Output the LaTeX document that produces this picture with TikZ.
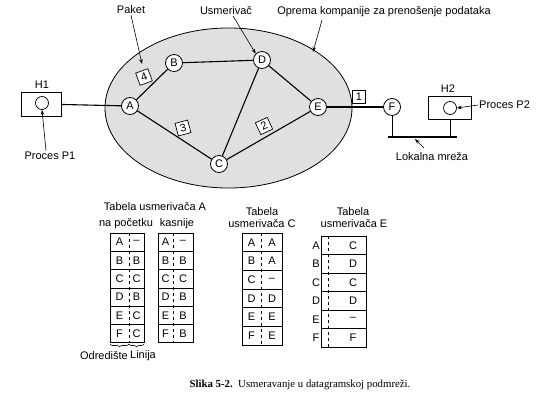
\documentclass[tikz,border=0pt]{standalone}
\usepackage{fontspec}
\setmainfont{Liberation Sans}
\newfontfamily\slikafont{Liberation Serif}
\usetikzlibrary{arrows.meta,decorations.pathreplacing}

\tikzset{
  ruter/.style={circle,draw,fill=white,line width=0.8pt,inner sep=0pt,minimum size=17pt},
  paket/.style={draw,fill=white,line width=0.7pt,inner sep=0pt,minimum size=13pt},
  veza/.style={line width=1.1pt},
  strelica/.style={line width=0.6pt,-{Stealth[length=5pt,width=3.5pt]}},
  oznaka/.style={inner sep=1pt},
}

\begin{document}
\begin{tikzpicture}[x=1pt,y=-1pt,font=\fontsize{11}{13}\selectfont]
    \useasboundingbox (0,0) rectangle (540,410);
    % Oblak mreze:
    % Elipsa sa sivom ispunom, cvorovi se crtaju preko nje
    \draw [line width=0.8pt,fill=black!12] (228.5,108) ellipse [x radius=123.5,y radius=80];

    % Usmerivaci:
    \node [ruter] (A) at (130,106) {A};
    \node [ruter] (B) at (174,63)  {B};
    \node [ruter] (D) at (262,60)  {D};
    \node [ruter] (C) at (219,164) {C};
    \node [ruter] (E) at (318,107) {E};
    \node [ruter] (F) at (392,107) {F};

    % Linije izmedju usmerivaca:
    \foreach \a/\b in {A/B,B/D,A/C,C/D,D/E,C/E,E/F}{%
        \draw [veza] (\a) -- (\b);
    }

    % Paketi:
    % Mali kvadrati sa brojevima, malo zarotirani
    \node [paket,rotate=20] (p4) at (144,77)  {4};
    \node [paket,rotate=15] (p3) at (183,128) {3};
    \node [paket,rotate=25] (p2) at (264,126) {2};
    \node [paket]           (p1) at (359,97)  {1};

    % Racunar H1:
    \node [draw,line width=0.7pt,minimum width=40pt,minimum height=24pt] (h1) at (41,104) {};
    \node [circle,draw,line width=0.7pt,minimum size=13pt,inner sep=0pt] (h1c) at (42,103) {};
    \node [oznaka] (h1l) at (42,85) {H1};
    \draw [veza] (h1) -- (A);

    % Racunar H2 i lokalna mreza:
    \node [draw,line width=0.7pt,minimum width=43pt,minimum height=23pt] (h2) at (450,108) {};
    \node [circle,draw,line width=0.7pt,minimum size=13pt,inner sep=0pt] (h2c) at (450,108) {};
    \node [oznaka] (h2l) at (448,89) {H2};
    \coordinate (lanL) at (388,137);
    \coordinate (lanR) at (457,137);
    \draw [veza] (lanL) -- (lanR);
    \draw [line width=0.8pt] (F) -- (F |- lanL);
    \draw [line width=0.8pt] (h2.south) -- (h2.south |- lanL);

    % Oznake sa strelicama:
    \node [oznaka] (paketl) at (131,10) {Paket};
    \draw [strelica] (paketl.south) -- (142,64);
    \node [oznaka] (usmerl) at (226,11) {Usmerivač};
    \draw [strelica] (usmerl.south east) ++(-20,0) -- (D.north west);
    \node [oznaka] (opremal) at (384,12) {Oprema kompanije za prenošenje podataka};
    \draw [strelica] (322,20) -- (313,52);
    \node [oznaka] (p1l) at (50,156) {Proces P1};
    \draw [strelica] (p1l.north) ++(-4,0) -- (h1c.south);
    \node [oznaka,anchor=west] (p2l) at (478,105) {Proces P2};
    \draw [strelica] (p2l.west) -- (h2c.east);
    \node [oznaka] (lanl) at (432,157) {Lokalna mreža};
    \draw [strelica] (424,148) -- (415,139);

    % Tabele:
    % Tabela usmerivaca A, na pocetku i kasnije
    \node [oznaka] (taHead) at (155,207) {Tabela usmerivača A};
    \node [oznaka] (taPoc)  at (126,224) {na početku};
    \node [oznaka] (taKas)  at (177,224) {kasnije};
    \foreach \d/\l [count=\i] in {A/\textendash,B/B,C/C,D/B,E/C,F/C}{%
        \draw [line width=0.7pt] (110,{233+(\i-1)*18.3}) rectangle (144,{233+\i*18.3});
        \node (ta\i d) at (119.5,{233+(\i-0.5)*18.3}) {\d};
        \node (ta\i l) at (136.5,{233+(\i-0.5)*18.3}) {\l};
    }
    \draw [dashed,line width=0.6pt] (129,233) -- (129,342.8);
    \foreach \d/\l [count=\i] in {A/\textendash,B/B,C/C,D/B,E/B,F/B}{%
        \draw [line width=0.7pt] (158,{233+(\i-1)*18.3}) rectangle (193,{233+\i*18.3});
        \node (tb\i d) at (165.5,{233+(\i-0.5)*18.3}) {\d};
        \node (tb\i l) at (183,{233+(\i-0.5)*18.3}) {\l};
    }
    \draw [dashed,line width=0.6pt] (173,233) -- (173,342.8);
    % Zagrade ispod prve tabele
    \draw [decorate,decoration={brace,mirror,amplitude=3pt},line width=0.6pt] (110,344) -- (129,344);
    \draw [decorate,decoration={brace,mirror,amplitude=3pt},line width=0.6pt] (129,344) -- (144,344);
    \node [oznaka] (odrl) at (104,356) {Odredište};
    \node [oznaka] (linl) at (143,356) {Linija};

    % Tabela usmerivaca C
    \node [oznaka] (tcHead1) at (262,212) {Tabela};
    \node [oznaka] (tcHead2) at (262,224) {usmerivača C};
    \foreach \d/\l [count=\i] in {A/A,B/A,C/\textendash,D/D,E/E,F/E}{%
        \draw [line width=0.7pt] (242,{233+(\i-1)*18.7}) rectangle (282,{233+\i*18.7});
        \node (tc\i d) at (251.5,{233+(\i-0.5)*18.7}) {\d};
        \node (tc\i l) at (272,{233+(\i-0.5)*18.7}) {\l};
    }
    \draw [dashed,line width=0.6pt] (261,233) -- (261,345.2);

    % Tabela usmerivaca E
    \node [oznaka] (teHead1) at (353,212) {Tabela};
    \node [oznaka] (teHead2) at (354,224) {usmerivača E};
    \foreach \d/\l [count=\i] in {A/C,B/D,C/C,D/D,E/\textendash,F/F}{%
        \draw [line width=0.7pt] (321,{236+(\i-1)*18.5}) rectangle (366,{236+\i*18.5});
        \node (te\i d) at (316,{236+(\i-0.5)*18.5}) {\d};
        \node (te\i l) at (353,{236+(\i-0.5)*18.5}) {\l};
    }
    \draw [dashed,line width=0.6pt] (328,236) -- (328,347);

    % Potpis slike:
    \node [font=\slikafont\fontsize{10.8}{13}\selectfont] (slika) at (300,385)
        {\textbf{Slika 5-2.}\ \ Usmeravanje u datagramskoj podmreži.};
\end{tikzpicture}
\end{document}
